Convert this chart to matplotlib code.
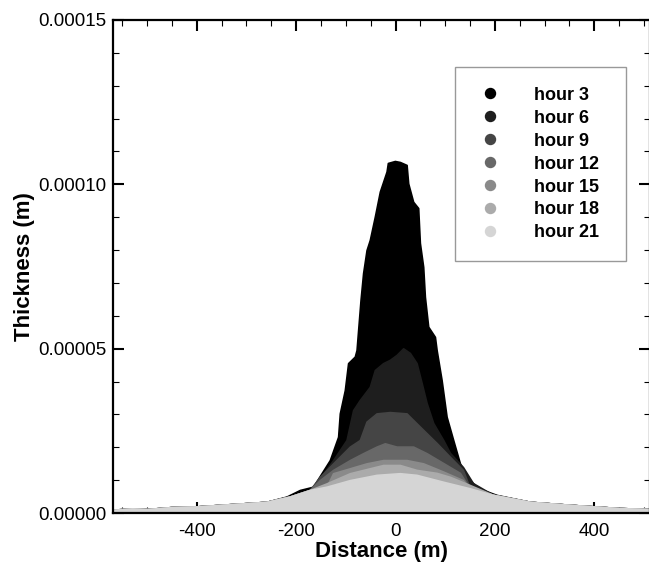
import numpy as np
import matplotlib
matplotlib.use("Agg")
import matplotlib.pyplot as plt
from matplotlib.lines import Line2D
from matplotlib.ticker import MultipleLocator, FormatStrFormatter

plt.rcParams['font.family'] = ['Liberation Sans', 'DejaVu Sans']
plt.rcParams['axes.unicode_minus'] = False

labels = ["hour 3", "hour 6", "hour 9", "hour 12", "hour 15", "hour 18", "hour 21"]
colors = ["#000000", "#1e1e1e", "#454545", "#686868", "#8a8a8a", "#ababab", "#d5d5d5"]

# Profiles: distance (m) and thickness (m)
x3 = [-219.5, -192.7, -166.0, -132.3, -115.6, -112.2, -102.1, -95.5, -82.0, -78.5, -75.3, -70.5,
      -65.3, -58.4, -51.8, -41.7, -31.6, -18.1, -15.5, -1.4, 8.7, 22.2, 25.4, 35.4, 45.5, 48.9,
      55.6, 59.0, 65.7, 79.2, 82.6, 92.6, 102.7, 116.0, 129.5, 143.0, 159.7, 176.4, 203.4]
y3 = [0.50e-5, 0.70e-5, 0.80e-5, 1.61e-5, 2.32e-5, 3.03e-5, 3.74e-5, 4.56e-5, 4.76e-5, 4.96e-5,
      5.57e-5, 6.48e-5, 7.30e-5, 8.00e-5, 8.31e-5, 9.02e-5, 9.78e-5, 10.39e-5, 10.65e-5, 10.71e-5,
      10.68e-5, 10.59e-5, 10.03e-5, 9.47e-5, 9.28e-5, 8.22e-5, 7.49e-5, 6.58e-5, 5.67e-5, 5.36e-5,
      4.96e-5, 4.05e-5, 2.93e-5, 2.22e-5, 1.51e-5, 1.10e-5, 0.85e-5, 0.70e-5, 0.55e-5]

x6 = [-159.1, -125.7, -98.7, -85.4, -71.9, -51.8, -41.7, -25.0, -11.5, 2.0, 15.3, 28.8, 42.3,
      52.4, 62.4, 75.7, 95.9, 109.4, 135.5, 155.7]
y6 = [0.91e-5, 1.61e-5, 2.22e-5, 3.13e-5, 3.44e-5, 3.84e-5, 4.35e-5, 4.56e-5, 4.66e-5, 4.81e-5,
      5.01e-5, 4.87e-5, 4.56e-5, 3.96e-5, 3.35e-5, 2.74e-5, 2.22e-5, 1.83e-5, 1.40e-5, 0.91e-5]

x9 = [-152.5, -125.7, -92.0, -71.9, -58.4, -38.3, -11.5, 22.2, 28.8, 55.6, 82.6, 109.4, 135.5]
y9 = [1.10e-5, 1.51e-5, 2.02e-5, 2.22e-5, 2.78e-5, 3.03e-5, 3.07e-5, 3.03e-5, 2.93e-5, 2.53e-5,
      2.13e-5, 1.71e-5, 1.31e-5]

x12 = [-152.5, -125.7, -92.0, -65.3, -38.3, -21.6, 2.0, 35.4, 62.4, 95.9, 129.5]
y12 = [1.00e-5, 1.31e-5, 1.61e-5, 1.82e-5, 2.02e-5, 2.12e-5, 2.02e-5, 2.02e-5, 1.82e-5, 1.52e-5,
       1.22e-5]

x15 = [-125.7, -92.0, -58.4, -25.0, 22.2, 55.6, 95.9, 135.5]
y15 = [1.21e-5, 1.36e-5, 1.51e-5, 1.61e-5, 1.61e-5, 1.51e-5, 1.26e-5, 1.00e-5]

x18 = [-139.0, -92.0, -25.0, 8.7, 42.3, 82.6, 109.4, 149.6]
y18 = [0.90e-5, 1.21e-5, 1.46e-5, 1.46e-5, 1.31e-5, 1.22e-5, 1.10e-5, 0.85e-5]

x21 = [-568, -530, -500, -450, -400, -350, -300, -259.8, -212.9, -172.6, -139.0, -92.0, -38.3,
       8.7, 42.3, 95.9, 149.6, 196.6, 270.5, 350, 400, 450, 512]
y21 = [0.10e-5, 0.14e-5, 0.12e-5, 0.18e-5, 0.20e-5, 0.25e-5, 0.30e-5, 0.34e-5, 0.50e-5, 0.70e-5,
       0.80e-5, 1.00e-5, 1.16e-5, 1.21e-5, 1.16e-5, 0.95e-5, 0.75e-5, 0.55e-5, 0.34e-5, 0.25e-5,
       0.20e-5, 0.15e-5, 0.12e-5]

profiles = [(x3, y3), (x6, y6), (x9, y9), (x12, y12), (x15, y15), (x18, y18), (x21, y21)]

fig = plt.figure(figsize=(6.49, 5.63), dpi=100)
ax = fig.add_axes([113.3 / 649, 50 / 563, (650 - 113.3) / 649, 493 / 563])

tx, ty = np.array(x21), np.array(y21)
for (xs, ys), c in zip(profiles, colors):
    xs, ys = np.array(xs), np.array(ys)
    left = tx < xs.min()
    right = tx > xs.max()
    X = np.concatenate([tx[left], xs, tx[right]])
    Y = np.concatenate([ty[left], ys, ty[right]])
    ax.fill_between(X, 0, Y, color=c, lw=1.2, edgecolor=c, joinstyle='round', zorder=2)

ax.set_xlim(-568, 512)
ax.set_ylim(0, 0.00015)

ax.xaxis.set_major_locator(MultipleLocator(200))
ax.xaxis.set_minor_locator(MultipleLocator(50))
ax.yaxis.set_major_locator(MultipleLocator(0.00005))
ax.yaxis.set_minor_locator(MultipleLocator(0.00001))
ax.yaxis.set_major_formatter(FormatStrFormatter('%.5f'))

ax.tick_params(which='both', direction='in', top=True, right=True, labelsize=13.5, zorder=5)
ax.tick_params(which='major', length=8, width=1.5)
ax.tick_params(axis='x', which='major', pad=7)
ax.tick_params(axis='y', which='major', pad=5)
ax.tick_params(which='minor', length=4, width=0.8)
for s in ax.spines.values():
    s.set_linewidth(1.6)
    s.set_zorder(6)

ax.set_xlabel("Distance (m)", fontsize=16, fontweight='bold', labelpad=1)
ax.set_ylabel("Thickness (m)", fontsize=16, fontweight='bold', labelpad=2)

handles = [Line2D([], [], ls='none', marker='o', markersize=7.2, markerfacecolor=c,
                  markeredgecolor=c) for c in colors]
leg = ax.legend(handles, labels, loc='upper left',
                bbox_to_anchor=(0.636, 0.507, 0.319, 0.398), mode='expand',
                prop={'weight': 'bold', 'size': 13}, frameon=True, fancybox=False,
                framealpha=1, edgecolor='#999999', borderpad=1.1, handlelength=1.67,
                handletextpad=1.6, labelspacing=0.33, borderaxespad=0)
leg.get_frame().set_linewidth(1.0)

fig.savefig("out.png", dpi=100)
